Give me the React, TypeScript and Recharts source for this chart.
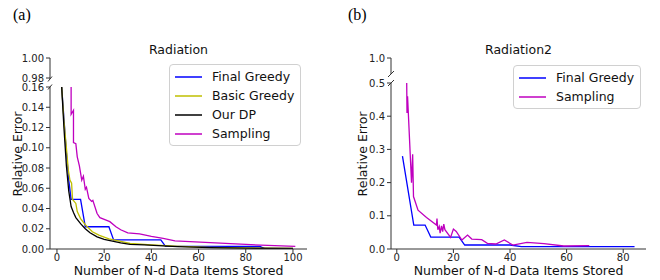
import { LineChart, Line, XAxis, YAxis, Legend } from 'recharts';

const FONT = '"DejaVu Sans", sans-serif';
const AXIS = '#333';

// ---- (a) Radiation ----
const aFinalGreedyX = [2, 4, 5, 6, 10, 12, 22, 24, 44, 46, 86, 88];
const aFinalGreedyY = [0.16, 0.095, 0.068, 0.049, 0.049, 0.022, 0.022, 0.009, 0.009, 0.0025, 0.0025, 0.0003];

const aBasicGreedyX = [2, 3, 4, 4.8, 5.5, 6.2, 6.6, 8, 8.6, 10, 12, 15, 18, 22, 25, 31, 40, 50, 65, 80, 100];
const aBasicGreedyY = [0.16, 0.125, 0.1, 0.078, 0.068, 0.065, 0.049, 0.045, 0.037, 0.03, 0.024, 0.017, 0.0135, 0.01, 0.0085, 0.0055, 0.004, 0.0028, 0.0016, 0.001, 0.0007];

const aOurDPX = [2, 3, 4, 5, 6, 7, 8, 10, 12, 14, 17, 20, 23, 27, 31, 37, 45, 51, 65, 80, 100];
const aOurDPY = [0.16, 0.118, 0.082, 0.057, 0.042, 0.036, 0.031, 0.025, 0.02, 0.016, 0.012, 0.0095, 0.008, 0.006, 0.0046, 0.004, 0.003, 0.0023, 0.0013, 0.0008, 0.0005];

const aSamplingX = [6, 6, 7, 7, 8, 8.6, 9.5, 10.5, 11.2, 12, 12.5, 13.5, 14.7, 15.2, 17, 18.2, 20.3, 22.4, 25, 27, 30, 35, 40, 45, 50, 65, 80, 101];
const aSamplingY = [0.16, 0.133, 0.137, 0.105, 0.104, 0.091, 0.082, 0.068, 0.072, 0.059, 0.061, 0.05, 0.047, 0.048, 0.035, 0.031, 0.029, 0.027, 0.022, 0.019, 0.016, 0.015, 0.0125, 0.0105, 0.008, 0.0062, 0.0045, 0.0025];

const aXTicks = [0, 20, 40, 60, 80, 100];
const aYTicks = [0, 0.02, 0.04, 0.06, 0.08, 0.1, 0.12, 0.14, 0.16];
const aTopTicks = [0.98, 1.0];

// ---- (b) Radiation2 ----
const bFinalGreedyX = [2, 6, 10, 12, 22, 24, 40, 44, 84];
const bFinalGreedyY = [0.28, 0.072, 0.072, 0.036, 0.036, 0.012, 0.012, 0.007, 0.007];

const bSamplingX = [3.5, 3.6, 3.8, 5.2, 5.6, 5.9, 7.5, 10.5, 14, 14.2, 14.5, 15, 15.3, 15.8, 16.2, 16.6, 17, 19, 20, 21, 23, 25, 26.5, 30, 32, 35, 38, 41, 46, 52, 59, 68];
const bSamplingY = [0.5, 0.41, 0.46, 0.2, 0.285, 0.158, 0.117, 0.095, 0.072, 0.092, 0.058, 0.068, 0.048, 0.07, 0.052, 0.075, 0.058, 0.035, 0.06, 0.053, 0.027, 0.042, 0.03, 0.028, 0.017, 0.015, 0.027, 0.012, 0.02, 0.016, 0.009, 0.01];

const bXTicks = [0, 20, 40, 60, 80];
const bYTicks = [0, 0.1, 0.2, 0.3, 0.4, 0.5];
const bTopTicks = [1.0];

const pts = (xs: number[], ys: number[]) => xs.map((x, i) => ({ x, y: ys[i] }));

const tickStyle = { fontSize: 10, fill: '#222', fontFamily: FONT };

type Series = { name: string; color: string; data: { x: number; y: number }[] };

function LegendBox({ items }: { items: Series[] }) {
  return (
    <div
      style={{
        background: 'rgba(255,255,255,0.8)',
        border: '1px solid #d0d0d0',
        borderRadius: 4,
        padding: '2px 6px 2px 5px',
        fontFamily: FONT,
        fontSize: 12.5,
        color: '#111',
      }}
    >
      {items.map((it) => (
        <div key={it.name} style={{ display: 'flex', alignItems: 'center', height: 19, whiteSpace: 'nowrap' }}>
          <svg width={27} height={4} style={{ marginRight: 10 }}>
            <line x1={0} y1={2} x2={27} y2={2} stroke={it.color} strokeWidth={1.5} />
          </svg>
          {it.name}
        </div>
      ))}
    </div>
  );
}

function Panel(props: {
  left: number;
  plotTop: number;
  topEnd: number;
  margin: { left: number; right: number };
  xDomain: [number, number];
  xTicks: number[];
  yDomain: [number, number];
  yTicks: number[];
  topDomain: [number, number];
  topTicks: number[];
  digits: number;
  series: Series[];
  legendPos: { left: number; top: number };
}) {
  const fmt = (v: number) => v.toFixed(props.digits);
  return (
    <>
      <div style={{ position: 'absolute', left: props.left, top: 0 }}>
        <LineChart width={330} height={props.topEnd + 6} margin={{ top: 58, bottom: 6, left: props.margin.left, right: props.margin.right }}>
          <XAxis type="number" dataKey="x" domain={props.xDomain} hide allowDataOverflow />
          <YAxis
            type="number"
            domain={props.topDomain}
            ticks={props.topTicks}
            tickFormatter={fmt}
            width={40}
            allowDataOverflow
            stroke={AXIS}
            tickSize={4}
            tickMargin={2}
            tick={tickStyle}
          />
        </LineChart>
      </div>
      <div style={{ position: 'absolute', left: props.left, top: 0 }}>
        <LineChart width={330} height={280} margin={{ top: props.plotTop, bottom: 0, left: props.margin.left, right: props.margin.right }}>
          <XAxis
            type="number"
            dataKey="x"
            domain={props.xDomain}
            ticks={props.xTicks}
            allowDataOverflow
            height={31}
            stroke={AXIS}
            tickSize={4}
            tickMargin={1}
            tick={tickStyle}
            label={{ value: 'Number of N-d Data Items Stored', position: 'insideBottom', offset: 5, style: { fontSize: 12.5, fill: '#111', fontFamily: FONT } }}
          />
          <YAxis
            type="number"
            domain={props.yDomain}
            ticks={props.yTicks}
            tickFormatter={fmt}
            width={40}
            allowDataOverflow
            stroke={AXIS}
            tickSize={4}
            tickMargin={2}
            tick={tickStyle}
          />
          {props.series.map((s) => (
            <Line
              key={s.name}
              name={s.name}
              data={s.data}
              dataKey="y"
              stroke={s.color}
              strokeWidth={1.3}
              dot={false}
              activeDot={false}
              isAnimationActive={false}
            />
          ))}
          <Legend
            layout="vertical"
            align="center"
            verticalAlign="middle"
            content={<LegendBox items={props.series} />}
            wrapperStyle={{ left: props.legendPos.left, top: props.legendPos.top, width: 'auto', right: 'auto', bottom: 'auto' }}
          />
        </LineChart>
      </div>
    </>
  );
}

function Overlay() {
  const brk = (x: number, y: number, dx: number, dy: number) => (
    <line x1={x - dx} y1={y + dy} x2={x + dx} y2={y - dy} stroke={AXIS} strokeWidth={1} />
  );
  const lab = { fontFamily: FONT, fontSize: 12.5, fill: '#111' };
  return (
    <svg width={660} height={280} style={{ position: 'absolute', left: 0, top: 0, pointerEvents: 'none' }}>
      <text x={13} y={20} style={{ fontFamily: '"Liberation Serif", serif', fontSize: 16 }}>(a)</text>
      <text x={348} y={20} style={{ fontFamily: '"Liberation Serif", serif', fontSize: 16 }}>(b)</text>
      <text x={178.5} y={54} textAnchor="middle" style={lab}>Radiation</text>
      <text x={518.5} y={54} textAnchor="middle" style={lab}>Radiation2</text>
      <text transform="translate(22,154) rotate(-90)" textAnchor="middle" style={lab}>Relative Error</text>
      <text transform="translate(366.5,154) rotate(-90)" textAnchor="middle" style={lab}>Relative Error</text>
      {brk(50, 79, 2, 2.5)}
      {brk(50, 87, 2, 2.5)}
      {brk(391, 74, 3, 3)}
      {brk(391, 83, 3, 3)}
    </svg>
  );
}

export default function App() {
  const aSeries: Series[] = [
    { name: 'Final Greedy', color: '#0000ff', data: pts(aFinalGreedyX, aFinalGreedyY) },
    { name: 'Basic Greedy', color: '#bfbf00', data: pts(aBasicGreedyX, aBasicGreedyY) },
    { name: 'Our DP', color: '#000000', data: pts(aOurDPX, aOurDPY) },
    { name: 'Sampling', color: '#bf00bf', data: pts(aSamplingX, aSamplingY) },
  ];
  const bSeries: Series[] = [
    { name: 'Final Greedy', color: '#0000ff', data: pts(bFinalGreedyX, bFinalGreedyY) },
    { name: 'Sampling', color: '#bf00bf', data: pts(bSamplingX, bSamplingY) },
  ];
  return (
    <div style={{ position: 'absolute', left: 0, top: 0, width: 660, height: 280, background: '#fff' }}>
      <Panel
        left={0}
        plotTop={87}
        topEnd={79}
        margin={{ left: 10, right: 23 }}
        xDomain={[-2.95, 105.95]}
        xTicks={aXTicks}
        yDomain={[0, 0.16]}
        yTicks={aYTicks}
        topDomain={[0.979, 1.0]}
        topTicks={aTopTicks}
        digits={2}
        series={aSeries}
        legendPos={{ left: 169, top: 64 }}
      />
      <Panel
        left={330}
        plotTop={83}
        topEnd={74}
        margin={{ left: 21, right: 14 }}
        xDomain={[-2.05, 88.05]}
        xTicks={bXTicks}
        yDomain={[0, 0.5]}
        yTicks={bYTicks}
        topDomain={[0.96, 1.0]}
        topTicks={bTopTicks}
        digits={1}
        series={bSeries}
        legendPos={{ left: 183, top: 65 }}
      />
      <Overlay />
    </div>
  );
}
